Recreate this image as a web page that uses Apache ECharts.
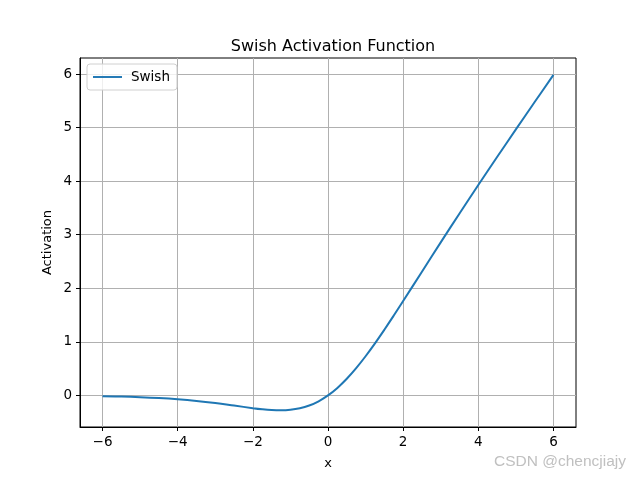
<!DOCTYPE html>
<html><head><meta charset="utf-8">
<script src="https://cdn.jsdelivr.net/npm/echarts@6/dist/echarts.min.js"></script>
<style>html,body{margin:0;padding:0;background:#fff}#c{width:640px;height:480px}</style>
</head><body><div id="c"></div>
<script>
const xValues = [-6, -5.5, -5, -4.5, -4, -3.5, -3, -2.5, -2, -1.75, -1.5, -1.25, -1, -0.75, -0.5, -0.25, 0, 0.25, 0.5, 0.75, 1, 1.25, 1.5, 1.75, 2, 2.5, 3, 3.5, 4, 4.5, 5, 5.5, 6];
const swishValues = [-0.0148, -0.0224, -0.0335, -0.0494, -0.0719, -0.1026, -0.1423, -0.1897, -0.2384, -0.2591, -0.2736, -0.2784, -0.2689, -0.2406, -0.1888, -0.1095, 0, 0.1405, 0.3112, 0.5094, 0.7311, 0.9716, 1.2264, 1.4909, 1.7616, 2.3104, 2.8577, 3.3974, 3.9281, 4.4506, 4.9665, 5.4776, 5.9852];
const xTicks = [-6, -4, -2, 0, 2, 4, 6];
const yTicks = [0, 1, 2, 3, 4, 5, 6];
const seriesName = 'Swish';
const titleText = 'Swish Activation Function';
const xName = 'x', yName = 'Activation';

const fmt = v => String(v).replace('-', '\u2212');
const font = 'DejaVu Sans';
const chart = echarts.init(document.getElementById('c'));
chart.setOption({
  animation: false,
  backgroundColor: '#fff',
  title: { text: titleText, left: 328, top: 34, textAlign: 'center',
    textStyle: { fontFamily: font, fontSize: 16, fontWeight: 'normal', color: '#000' } },
  legend: { left: 87, top: 64, orient: 'vertical', data: [seriesName],
    icon: 'path://M0,0H30V2H0Z', itemWidth: 29, itemHeight: 2, itemGap: 5,
    padding: [6, 7, 6, 6], borderColor: '#d0d0d0', borderWidth: 1, borderRadius: 3,
    backgroundColor: 'rgba(255,255,255,0.8)',
    textStyle: { fontFamily: font, fontSize: 13.5, color: '#000', padding: [0, 0, 0, 4] } },
  grid: { left: 80, right: 64, top: 58, bottom: 53, show: true, borderColor: '#000', borderWidth: 1 },
  xAxis: {
    type: 'value', min: -6.6, max: 6.6,
    name: xName, nameLocation: 'middle', nameGap: 30,
    nameTextStyle: { fontFamily: font, fontSize: 13, color: '#000' },
    axisLine: { show: true, onZero: false, lineStyle: { color: '#000' } },
    axisTick: { show: true, customValues: xTicks, length: 4, lineStyle: { color: '#000' } },
    axisLabel: { customValues: xTicks, formatter: fmt, fontFamily: font, fontSize: 13.5, color: '#000', margin: 8 },
    splitLine: { show: true, customValues: xTicks, lineStyle: { color: '#b0b0b0', width: 1 } }
  },
  yAxis: {
    type: 'value', min: -0.59, max: 6.3,
    name: yName, nameLocation: 'middle', nameGap: 26, nameMoveOverlap: false,
    nameTextStyle: { fontFamily: font, fontSize: 13, color: '#000' },
    axisLine: { show: true, onZero: false, lineStyle: { color: '#000' } },
    axisTick: { show: true, customValues: yTicks, length: 4, lineStyle: { color: '#000' } },
    axisLabel: { customValues: yTicks, formatter: fmt, fontFamily: font, fontSize: 13.5, color: '#000', margin: 8 },
    splitLine: { show: true, customValues: yTicks, lineStyle: { color: '#b0b0b0', width: 1 } }
  },
  series: [{
    name: seriesName, type: 'line', smooth: 0.4, showSymbol: false,
    data: xValues.map((x, i) => [x, swishValues[i]]),
    lineStyle: { color: '#1f77b4', width: 2 }, itemStyle: { color: '#1f77b4' }
  }],
  graphic: [{ type: 'text', left: 494, top: 454,
    style: { text: 'CSDN @chencjiajy', fontFamily: 'Liberation Sans', fontSize: 15.5, fill: '#c0c0c0' } }]
});
</script></body></html>
